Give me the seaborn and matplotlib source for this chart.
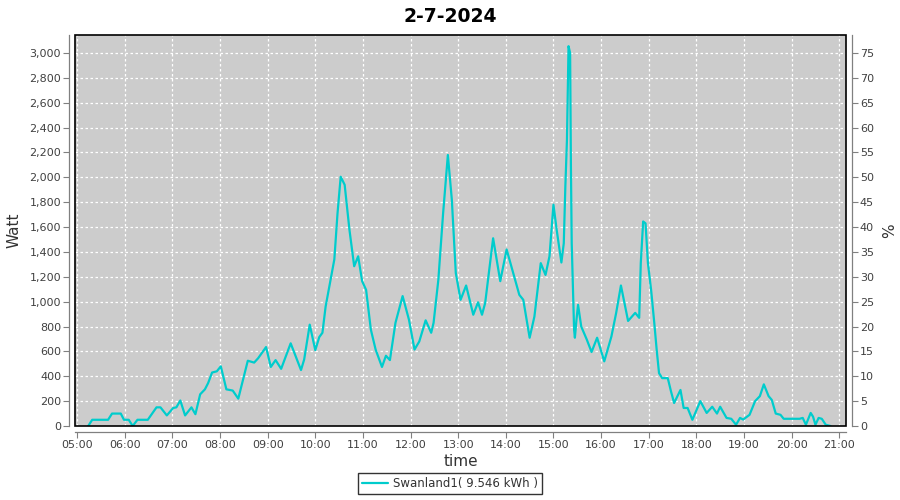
import pandas as pd
import seaborn as sns
import matplotlib.pyplot as plt
import matplotlib.dates as mdates
from matplotlib.patches import Rectangle
from matplotlib.ticker import FuncFormatter, MultipleLocator

day = '2024-07-02'
title = '2-7-2024'
series_label = 'Swanland1( 9.546 kWh )'

# readings (HH:MM, watt)
times = ['05:14', '05:19', '05:39', '05:44', '05:55', '05:59', '06:05', '06:10', '06:16', '06:29',
         '06:40', '06:45', '06:53', '07:01', '07:05', '07:10', '07:16', '07:24', '07:29', '07:35',
         '07:41', '07:45', '07:50', '07:56', '08:01', '08:08', '08:16', '08:23', '08:35', '08:43',
         '08:48', '08:58', '09:04', '09:10', '09:17', '09:29', '09:42', '09:46', '09:53', '10:00',
         '10:05', '10:09', '10:13', '10:20', '10:24', '10:28', '10:32', '10:37', '10:43', '10:49',
         '10:54', '10:59', '11:04', '11:10', '11:16', '11:24', '11:29', '11:34', '11:41', '11:50',
         '11:58', '12:05', '12:11', '12:19', '12:26', '12:29', '12:35', '12:41', '12:47', '12:52',
         '12:57', '13:03', '13:10', '13:19', '13:25', '13:30', '13:34', '13:44', '13:53', '14:01',
         '14:10', '14:17', '14:22', '14:30', '14:36', '14:44', '14:50', '14:55', '15:00', '15:04',
         '15:10', '15:13', '15:15', '15:17', '15:19', '15:21', '15:22', '15:23', '15:25', '15:26',
         '15:27', '15:29', '15:31', '15:35', '15:42', '15:48', '15:55', '16:04', '16:13', '16:19',
         '16:25', '16:34', '16:43', '16:48', '16:50', '16:53', '16:56', '16:59', '17:03', '17:07',
         '17:10', '17:13', '17:17', '17:24', '17:28', '17:32', '17:40', '17:44', '17:49', '17:55',
         '18:05', '18:13', '18:20', '18:26', '18:30', '18:38', '18:44', '18:50', '18:55', '18:59',
         '19:07', '19:14', '19:20', '19:25', '19:31', '19:35', '19:40', '19:46', '19:50', '20:10',
         '20:14', '20:18', '20:24', '20:27', '20:30', '20:34', '20:38', '20:43', '20:49']
watts = [0, 50, 50, 100, 100, 50, 50, 0, 50, 50,
         150, 150, 85, 145, 150, 205, 85, 150, 95, 255,
         295, 345, 430, 440, 480, 295, 285, 220, 525, 510,
         545, 635, 475, 530, 460, 665, 450, 535, 815, 610,
         715, 750, 960, 1200, 1340, 1710, 2005, 1940, 1580, 1285,
         1365, 1165, 1095, 775, 615, 475, 565, 530, 830, 1045,
         855, 615, 680, 850, 750, 830, 1175, 1710, 2180, 1820,
         1230, 1015, 1130, 895, 995, 895, 990, 1510, 1165, 1420,
         1215, 1055, 1015, 710, 880, 1310, 1215, 1365, 1780, 1580,
         1315, 1470, 1930, 2300, 3055, 3000, 2090, 1470, 990, 775,
         710, 855, 975, 800, 695, 595, 710, 520, 720, 910,
         1130, 845, 910, 870, 1310, 1645, 1630, 1310, 1095, 830,
         615, 425, 385, 385, 280, 185, 290, 145, 145, 50,
         200, 105, 155, 100, 155, 65, 58, 10, 65, 52,
         90, 200, 240, 335, 240, 210, 100, 90, 58, 58,
         65, 10, 105, 75, 10, 65, 58, 10, 0]

watt_max = 3145
watt_per_pct = 40  # 3000 W on the left lines up with 75 % on the right

df = pd.DataFrame({'time': pd.to_datetime([f'{day} {t}' for t in times]), 'watt': watts})

sns.set_style('white')
plt.rcParams['font.family'] = ['DejaVu Sans']
plt.rcParams['text.color'] = 'black'

fig = plt.figure(figsize=(9, 5), dpi=100)
ax = fig.add_axes([75 / 900, 74 / 500, 771 / 900, 391 / 500])
ax.set_facecolor('#cccccc')

sns.lineplot(data=df, x='time', y='watt', ax=ax, color='#00cccc', lw=1.6, label=series_label)

ax.set_xlim(pd.Timestamp(f'{day} 04:57:20'), pd.Timestamp(f'{day} 21:08:30'))
ax.set_ylim(0, watt_max)
ax.xaxis.set_major_locator(mdates.HourLocator(interval=1))
ax.xaxis.set_major_formatter(mdates.DateFormatter('%H:%M'))
ax.yaxis.set_major_locator(MultipleLocator(200))
ax.yaxis.set_major_formatter(FuncFormatter(lambda v, p: f'{v:,.0f}'))
ax.grid(True, color='white', linestyle=(0, (2, 2)), linewidth=0.9)

ax2 = ax.twinx()
ax2.set_ylim(0, watt_max / watt_per_pct)
ax2.yaxis.set_major_locator(MultipleLocator(5))
ax2.grid(False)

for a in (ax, ax2):
    for s in a.spines.values():
        s.set_visible(False)
    a.tick_params(length=4, width=0.8, color='#808080', labelcolor='#404040',
                  labelsize=8, pad=2)
for side, a in (('left', ax), ('bottom', ax), ('right', ax2)):
    a.spines[side].set_visible(True)
    a.spines[side].set_position(('outward', 4))
    a.spines[side].set_color('#808080')
    a.spines[side].set_linewidth(0.9)
ax2.tick_params(axis='y', right=True, direction='out')
ax.tick_params(axis='both', left=True, bottom=True, direction='out')

ax.add_patch(Rectangle((0, 0), 1, 1, transform=ax.transAxes, fill=False,
                       edgecolor='black', lw=1.2, clip_on=False, zorder=5))

ax.set_xlabel('time', fontsize=11, color='#333333', labelpad=3)
ax.set_ylabel('Watt', fontsize=11, color='#333333', labelpad=6)
ax2.set_ylabel('%', fontsize=11, color='#333333', labelpad=6)
fig.suptitle(title, x=0.5, y=0.985, fontsize=13.5, fontweight='bold', va='top', color='black')

handles, labels = ax.get_legend_handles_labels()
ax.get_legend().remove()
leg = fig.legend(handles, labels, loc='lower center', bbox_to_anchor=(0.5, 0.0),
                 fontsize=8.5, frameon=True, fancybox=False, handlelength=2.2,
                 borderpad=0.35, handletextpad=0.4, labelcolor='#333333')
leg.get_frame().set_edgecolor('black')
leg.get_frame().set_linewidth(1.0)

fig.savefig('out.png', dpi=100)
